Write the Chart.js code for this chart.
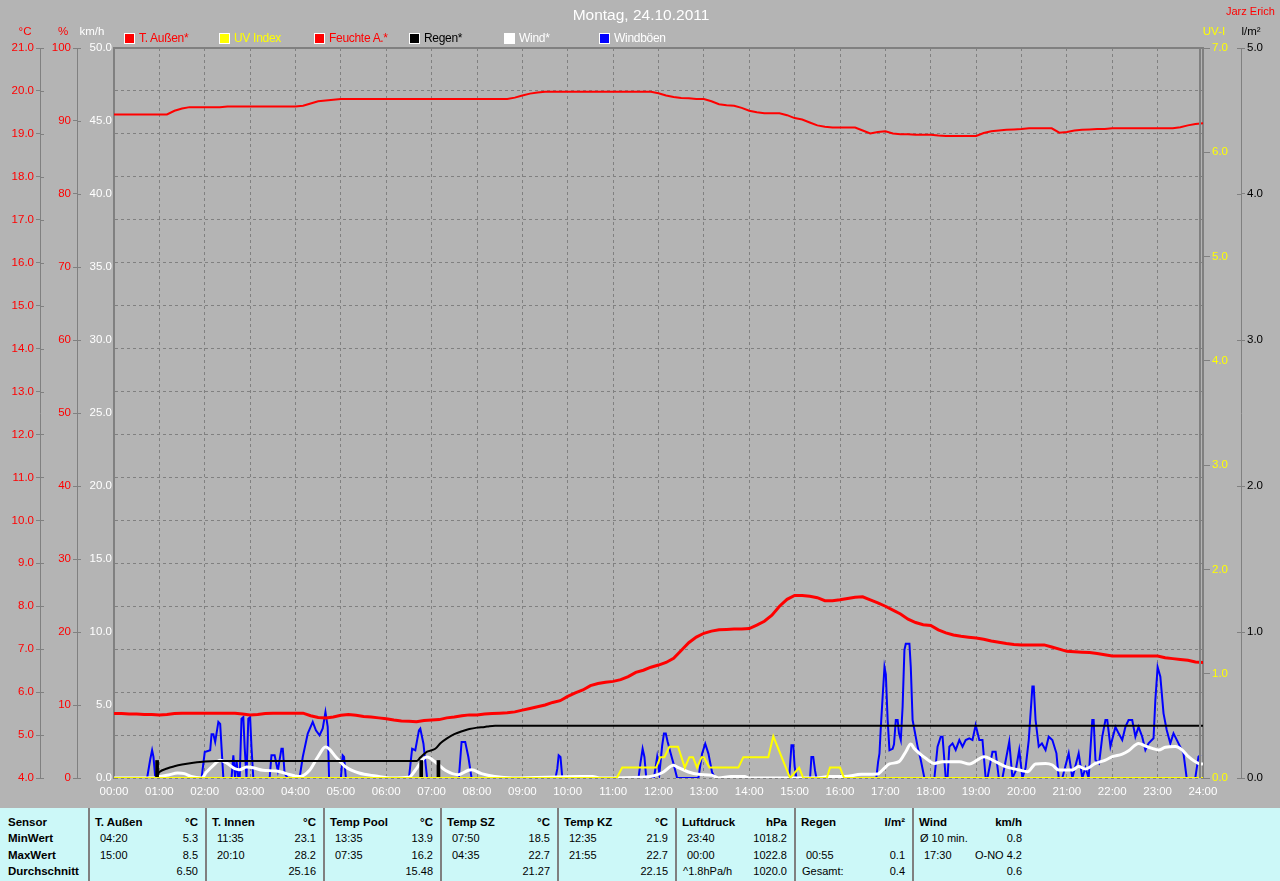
<!DOCTYPE html>
<html><head><meta charset="utf-8">
<script src="https://cdn.jsdelivr.net/npm/chart.js@4.4.0/dist/chart.umd.min.js"></script>
<style>
html,body{margin:0;padding:0;}
body{width:1280px;height:881px;background:#b4b4b4;position:relative;overflow:hidden;font-family:"Liberation Sans",Arial,sans-serif;}
#c{position:absolute;left:0;top:0;}
.abs{position:absolute;white-space:nowrap;line-height:1;}
#title{left:0;width:1282px;top:7px;text-align:center;color:#fff;font-size:15.5px;}
#author{left:1226px;top:6px;color:#f00;font-size:11px;}
.lg-box{position:absolute;width:11px;height:11px;box-sizing:border-box;border:1px solid #fff;top:33px;}
.lg-txt{position:absolute;top:32px;font-size:12px;letter-spacing:-0.3px;white-space:nowrap;line-height:12px;}
#stats{position:absolute;left:0;top:808px;width:1280px;height:73px;background:#ccf8f8;}
.st{position:absolute;font-size:11px;line-height:12px;white-space:nowrap;color:#000;}
.stb{font-weight:bold;font-size:11.5px;}
.sep{position:absolute;top:0;width:2px;height:73px;background:#808080;}
</style></head><body>
<canvas id="c" width="1280" height="807"></canvas>
<div id="title" class="abs">Montag, 24.10.2011</div>
<div id="author" class="abs">Jarz Erich</div>
<div id="legend"></div>
<div id="stats"></div>
<script>
// ---------- DATA ----------
// Temperature outside (°C), 10-minute samples from 00:00 to 24:00
const tempOut = [5.50,5.50,5.49,5.49,5.48,5.48,5.47,5.48,5.50,
 5.51,5.51,5.51,5.51,5.51,5.51,5.51,5.51,
 5.49,5.47,5.48,5.50,
 5.51,5.51,5.51,5.51,5.51,
 5.45,5.41,5.40,5.42,5.46,5.48,5.46,5.43,5.42,5.40,5.38,5.35,5.33,5.32,5.31,5.34,5.35,5.36,5.40,5.42,5.45,5.47,5.47,5.49,5.50,5.51,5.52,5.54,
 5.58,5.62,5.66,5.70,5.76,5.80,5.90,5.98,6.05,6.15,6.20,6.23,6.25,6.29,6.36,6.46,6.51,6.58,6.63,6.69,6.79,6.97,7.15,7.28,7.37,7.42,7.45,7.46,7.47,7.47,7.48,7.56,7.65,7.79,8.00,8.16,8.25,8.25,8.23,8.20,8.13,8.13,8.15,8.18,8.21,8.22,8.15,8.08,8.00,7.91,7.82,7.70,7.62,7.57,7.55,7.45,7.38,7.33,7.30,7.28,7.26,7.23,7.19,7.16,7.13,7.11,7.10,
 7.10,7.10,7.10,7.05,7.00,6.95,6.94,6.93,6.92,6.90,6.87,6.84,
 6.84,6.84,6.84,6.84,6.84,6.84,6.80,6.78,6.76,6.74,6.70,6.69];
// Humidity outside (%), 10-minute samples
const humidity = [90.9,90.9,90.9,90.9,90.9,90.9,90.9,90.9,
 91.4,91.7,91.9,91.9,91.9,91.9,91.9,
 92.0,92.0,92.0,92.0,92.0,92.0,92.0,92.0,92.0,92.0,
 92.1,92.4,92.7,92.8,92.9,
 93.0,93.0,93.0,93.0,93.0,93.0,93.0,93.0,93.0,93.0,93.0,93.0,93.0,93.0,93.0,93.0,93.0,93.0,93.0,93.0,93.0,93.0,93.0,
 93.2,93.5,93.75,93.9,
 94.0,94.0,94.0,94.0,94.0,94.0,94.0,94.0,94.0,94.0,94.0,94.0,94.0,94.0,94.0,
 93.8,93.5,93.3,93.15,93.1,93.0,93.0,92.7,92.3,92.17,92.1,91.8,91.4,91.2,91.07,91.07,91.07,90.8,90.4,90.2,89.8,89.4,89.2,89.1,89.1,89.1,89.1,
 88.7,88.3,88.5,88.6,88.3,88.2,88.2,88.1,88.1,88.1,88.0,
 87.95,87.95,87.95,87.95,87.95,
 88.35,88.6,88.7,88.8,88.85,88.9,
 89.0,89.0,89.0,89.0,
 88.4,88.5,88.7,88.8,88.85,88.9,88.9,
 89.0,89.0,89.0,89.0,89.0,89.0,89.0,89.0,89.0,
 89.15,89.4,89.6,89.7];
// UV index (breakpoints: hour, value)
const uvTimes  = [0,11.08,11.2,11.95,12.04,12.13,12.24,12.43,12.58,12.68,12.76,12.85,12.95,13.0,13.12,13.76,13.87,14.42,14.53,14.9,15.1,15.19,15.71,15.78,16.0,16.09,24];
const uvValues = [0,0,0.1,0.1,0.2,0.2,0.3,0.3,0.1,0.2,0.2,0.1,0.2,0.2,0.1,0.1,0.2,0.2,0.4,0,0.1,0,0,0.1,0.1,0,0];
// Rain cumulative (l/m²)
const rainTimes  = [0.92,1.0,1.17,1.33,1.5,1.75,2.0,2.25,6.67,6.75,6.9,7.08,7.2,7.33,7.5,7.67,7.83,8.0,8.17,8.27,8.4,24];
const rainValues = [0,0.04,0.065,0.08,0.092,0.104,0.113,0.116,0.116,0.14,0.18,0.2,0.24,0.27,0.30,0.32,0.335,0.345,0.35,0.355,0.358,0.358];
// Rain events (l/m²)
const rainBarTimes  = [0.95,6.77,7.15];
const rainBarValues = [0.12,0.12,0.12];
// Wind average (km/h)
const windTimes  = [0,0.88,1.0,1.2,1.4,1.55,1.7,1.93,2.04,2.19,2.34,2.48,2.66,2.77,2.92,3.07,3.28,3.58,3.8,4.09,4.31,4.49,4.66,4.74,4.89,5.11,5.4,5.77,6.13,6.5,6.64,6.82,6.9,7.08,7.3,7.59,7.81,7.88,8.1,8.39,8.78,10.3,10.55,10.7,11.64,11.93,12.11,12.33,12.44,12.66,12.88,13.18,13.32,13.6,13.9,14.0,15.5,15.75,16.1,16.47,16.83,16.94,17.09,17.3,17.45,17.56,17.64,17.75,17.89,18.08,18.26,18.63,18.85,19.18,19.36,19.65,19.95,20.13,20.31,20.53,20.68,20.82,21.12,21.26,21.41,21.63,21.85,22.0,22.22,22.36,22.58,22.73,22.88,23.02,23.17,23.39,23.54,23.68,23.9,24.0];
const windValues = [0,0,0.1,0.2,0.34,0.3,0.1,0,0.41,0.87,1.21,1.03,0.64,0.57,0.75,0.7,0.53,0.48,0.3,0.1,0.53,1.44,2.12,2.0,1.44,0.75,0.34,0.14,0,0.05,0.53,1.32,1.44,1.1,0.53,0.23,0.53,0.57,0.3,0.1,0,0.1,0.1,0,0.05,0.18,0.41,0.87,0.71,0.41,0.25,0.18,0,0.1,0.1,0,0,0.1,0.1,0.25,0.27,0.55,0.96,1.12,1.8,2.33,2.0,1.69,1.35,1.0,1.12,1.12,0.96,1.46,1.23,0.78,0.55,0.43,0.96,1.0,0.89,0.55,0.55,0.78,0.62,1.0,1.23,1.46,1.64,1.87,2.37,2.19,2.03,1.92,2.1,2.15,1.92,1.46,1.0,0.95];
// Wind gusts (km/h)
const gustTimes  = [0,0.73,0.80,0.84,0.87,0.91,1.93,2.00,2.12,2.15,2.19,2.23,2.30,2.34,2.37,2.41,2.59,2.63,2.67,2.70,2.74,2.77,2.81,2.85,2.88,2.92,2.96,3.00,3.03,3.07,3.43,3.47,3.54,3.61,3.69,3.72,3.76,3.83,4.09,4.16,4.27,4.38,4.45,4.53,4.60,4.66,4.71,4.74,5.00,5.04,5.07,5.11,6.50,6.57,6.64,6.72,6.75,6.82,6.90,7.60,7.66,7.74,7.81,7.88,9.73,9.77,9.80,9.84,9.88,11.56,11.60,11.65,11.69,11.73,11.90,11.97,12.02,12.08,12.12,12.16,12.20,12.26,12.33,12.41,12.88,12.96,13.03,13.10,13.18,13.25,14.88,14.93,14.97,15.00,15.04,15.34,15.37,15.41,15.45,15.48,16.80,16.84,16.87,16.90,16.94,16.98,17.01,17.05,17.09,17.16,17.19,17.23,17.27,17.30,17.34,17.38,17.42,17.45,17.53,17.56,17.60,17.71,17.78,17.86,18.08,18.15,18.22,18.26,18.33,18.37,18.41,18.48,18.55,18.63,18.70,18.77,18.85,18.92,18.99,19.07,19.14,19.21,19.25,19.36,19.43,19.50,19.58,19.73,19.80,19.87,19.95,20.02,20.09,20.16,20.24,20.27,20.31,20.38,20.45,20.53,20.60,20.68,20.77,20.82,20.90,21.04,21.12,21.26,21.34,21.41,21.48,21.56,21.59,21.63,21.71,21.78,21.85,21.89,21.96,22.07,22.14,22.22,22.29,22.36,22.44,22.51,22.58,22.66,22.73,22.80,22.91,22.95,23.00,23.06,23.13,23.20,23.28,23.35,23.46,23.57,23.64,23.83,23.90,23.95];
const gustValues = [0,0,1.3,1.9,1.45,0,0,1.78,1.9,3.0,3.0,2.47,3.84,3.7,2.1,0,0,1.55,0,1.2,0,0,4.06,4.17,2.1,0,4.06,4.17,2.1,0,0,1.55,1.55,0.5,2.0,2.0,0.3,0,0,1.44,3.04,3.84,3.27,2.92,3.4,4.52,3.5,0,0,1.55,1.44,0,0,2.0,1.9,3.26,3.38,2.35,0,0,2.47,2.47,1.44,0,0,0.64,1.55,1.44,0,0,0.98,2.0,1.44,0,0,1.44,0.3,2.2,3.04,3.04,2.5,1.78,1.0,0,0,1.67,2.35,1.67,0.4,0,0,2.24,2.24,0.8,0,0,1.44,1.44,0.5,0,0,1.1,1.69,3.5,5.57,7.6,7.1,3.97,1.9,2.0,2.3,3.97,3.97,3.06,2.6,4.9,8.77,9.2,9.2,7.6,3.97,2.15,1.23,0,0,2.15,2.83,2.83,0,0,2.15,2.37,1.92,2.6,2.15,2.6,2.72,2.6,3.63,2.6,2.6,0,0,1.8,1.8,0,0,2.49,0,0.46,1.92,0,0.7,2.6,6.26,6.26,3.97,2.15,2.37,1.92,2.83,2.6,1.69,0,0,1.69,0,1.69,0,0.7,0,3.97,3.97,1.23,1.0,2.83,3.97,3.97,2.15,3.5,3.06,2.6,3.5,3.97,3.97,2.83,3.5,2.83,1.92,2.37,2.72,5.34,7.6,6.94,4.43,3.29,2.37,3.06,2.37,1.69,0,0,1.46,1.6];

// Legend
const legendLabels = ['T. Außen*','UV Index','Feuchte A.*','Regen*','Wind*','Windböen'];
const legendBoxColors = ['#ff0000','#ffff00','#ff0000','#000000','#ffffff','#0000ff'];
const legendTextColors = ['#ff0000','#ffff00','#ff0000','#000000','#ffffff','#ffffff'];

// Stats table
const statRowNames = ['Sensor','MinWert','MaxWert','Durchschnitt'];
const statSensors = ['T. Außen','T. Innen','Temp Pool','Temp SZ','Temp KZ','Luftdruck','Regen','Wind'];
const statUnits = ['°C','°C','°C','°C','°C','hPa','l/m²','km/h'];
const statLabels = [['04:20','15:00',''],['11:35','20:10',''],['13:35','07:35',''],['07:50','04:35',''],['12:35','21:55',''],['23:40','00:00','^1.8hPa/h'],['','00:55','Gesamt:'],['Ø 10 min.','17:30','']];
const statValues = [['5.3','8.5','6.50'],['23.1','28.2','25.16'],['13.9','16.2','15.48'],['18.5','22.7','21.27'],['21.9','22.7','22.15'],['1018.2','1022.8','1020.0'],['','0.1','0.4'],['0.8','O-NO 4.2','0.6']];

// ---------- BUILD HTML PARTS ----------
const lg = document.getElementById('legend');
legendLabels.forEach((t, i) => {
  const x = 124 + i * 95;
  const b = document.createElement('div'); b.className = 'lg-box';
  b.style.left = x + 'px'; b.style.background = legendBoxColors[i]; lg.appendChild(b);
  const s = document.createElement('div'); s.className = 'lg-txt';
  s.style.left = (x + 15) + 'px'; s.style.color = legendTextColors[i]; s.textContent = t; lg.appendChild(s);
});

const st = document.getElementById('stats');
const rowTop = [8, 24, 41, 57];
function addText(txt, x, y, cls, right) {
  const d = document.createElement('div'); d.className = 'st' + (cls ? ' ' + cls : '');
  d.textContent = txt; d.style.top = y + 'px';
  if (right) { d.style.right = (1280 - x) + 'px'; } else { d.style.left = x + 'px'; }
  st.appendChild(d);
}
statRowNames.forEach((n, r) => addText(n, 8, rowTop[r], 'stb'));
const seps = [88, 205, 323, 440, 557, 675, 794, 912];
seps.forEach((sx, c) => {
  const sp = document.createElement('div'); sp.className = 'sep'; sp.style.left = sx + 'px'; st.appendChild(sp);
  const right = c < seps.length - 1 ? seps[c + 1] - 7 : sx + 110;
  addText(statSensors[c], sx + 7, rowTop[0], 'stb');
  addText(statUnits[c], right, rowTop[0], 'stb', true);
  for (let r = 0; r < 3; r++) {
    const lab = statLabels[c][r];
    if (lab) addText(lab, sx + (/^\d\d:\d\d$/.test(lab) ? 12 : 8), rowTop[r + 1]);
    if (statValues[c][r]) addText(statValues[c][r], right, rowTop[r + 1], '', true);
  }
});

// ---------- CHART ----------
const FONT = {family: '"Liberation Sans", Arial, sans-serif', size: 11.5};
Chart.defaults.font.family = FONT.family;
Chart.defaults.font.size = FONT.size;
const xy = (xs, ys) => ys.map((y, i) => ({x: xs[i], y}));
const tenMin = arr => arr.map((y, i) => ({x: i / 6, y}));
const GRID = '#808080';

const axisTitles = [
  {axis: 'yT', text: '°C', color: '#ff0000', dx: -15},
  {axis: 'yH', text: '%', color: '#ff0000', dx: -14},
  {axis: 'yW', text: 'km/h', color: '#ffffff', dx: -22},
  {axis: 'yU', text: 'UV-I', color: '#ffff00', dx: 11},
  {axis: 'yL', text: 'l/m²', color: '#000000', dx: 10}
];

const framePlugin = {
  id: 'frame',
  afterDraw(chart) {
    const {ctx, chartArea: a, scales} = chart;
    ctx.save();
    ctx.strokeStyle = GRID;
    ctx.lineWidth = 2;
    ctx.beginPath(); ctx.moveTo(a.left - 1, a.top); ctx.lineTo(a.right + 1, a.top); ctx.stroke();
    ctx.beginPath(); ctx.moveTo(a.right - 3, a.top); ctx.lineTo(a.right - 3, a.bottom); ctx.stroke();
    ctx.lineWidth = 1;
    [['yT', 1], ['yH', 1], ['yL', -1]].forEach(([id, dir]) => {
      const s = scales[id];
      const bx = dir > 0 ? s.right : s.left;
      s.ticks.forEach(t => {
        const y = Math.round(s.getPixelForValue(t.value)) + 0.5;
        ctx.beginPath(); ctx.moveTo(bx, y); ctx.lineTo(bx + dir * 4, y); ctx.stroke();
      });
    });
    ctx.font = '11.5px ' + FONT.family;
    ctx.textAlign = 'center'; ctx.textBaseline = 'middle';
    axisTitles.forEach(t => {
      const s = scales[t.axis];
      const bx = s.position === 'left' ? s.right : s.left;
      ctx.fillStyle = t.color;
      ctx.fillText(t.text, bx + t.dx, 32);
    });
    ctx.restore();
  }
};

function yAxis(pos, min, max, step, color, width, weight, decimals, extra) {
  return Object.assign({
    type: 'linear', position: pos, min, max, weight,
    ticks: {stepSize: step, color, padding: 2, callback: v => Number(v).toFixed(decimals), autoSkip: false, font: FONT},
    grid: {drawOnChartArea: false, drawTicks: true, tickLength: 4, tickColor: GRID, tickBorderDash: [], color: GRID},
    border: {display: true, color: GRID, width: 1},
    afterFit: s => { s.width = width; }
  }, extra || {});
}

new Chart(document.getElementById('c'), {
  type: 'line',
  data: {
    datasets: [
      {label: 'UV Index', data: xy(uvTimes, uvValues), yAxisID: 'yU', borderColor: '#ffff00', borderWidth: 2, pointRadius: 0, tension: 0, order: 0},
      {label: 'Regen*', data: xy(rainTimes, rainValues), yAxisID: 'yL', borderColor: '#000000', borderWidth: 2, pointRadius: 0, cubicInterpolationMode: 'monotone', order: 1},
      {type: 'bar', label: 'Regen', data: xy(rainBarTimes, rainBarValues), yAxisID: 'yL', backgroundColor: '#000000', barThickness: 3, order: 1},
      {label: 'T. Außen*', data: tenMin(tempOut), yAxisID: 'yT', borderColor: '#ff0000', borderWidth: 3, pointRadius: 0, tension: 0, order: 2},
      {label: 'Feuchte A.*', data: tenMin(humidity), yAxisID: 'yH', borderColor: '#ff0000', borderWidth: 2, pointRadius: 0, tension: 0, order: 3},
      {label: 'Wind*', data: xy(windTimes, windValues), yAxisID: 'yW', borderColor: '#ffffff', borderWidth: 3, pointRadius: 0, cubicInterpolationMode: 'monotone', order: 4},
      {label: 'Windböen', data: xy(gustTimes, gustValues), yAxisID: 'yW', borderColor: '#0000ff', borderWidth: 2, pointRadius: 0, tension: 0, order: 5}
    ]
  },
  options: {
    responsive: false, animation: false, devicePixelRatio: 1, events: [],
    layout: {padding: {top: 48, left: 0, right: 0, bottom: 0}},
    plugins: {legend: {display: false}, title: {display: false}, tooltip: {enabled: false}},
    scales: {
      x: {
        type: 'linear', min: 0, max: 24, offset: false,
        ticks: {stepSize: 1, autoSkip: false, maxRotation: 0, color: '#ffffff', padding: 7, font: FONT,
                callback: v => String(v).padStart(2, '0') + ':00'},
        grid: {color: GRID, drawTicks: false, offset: false},
        border: {display: false, dash: [3, 3]},
        afterFit: s => { s.height = 29; }
      },
      yT: yAxis('left', 4, 21, 1, '#ff0000', 40, 3, 1, {
        grid: {drawOnChartArea: true, drawTicks: true, tickLength: 4, tickColor: GRID, tickBorderDash: [], color: GRID},
        border: {display: true, color: GRID, width: 1, dash: [3, 3]}
      }),
      yH: yAxis('left', 0, 100, 10, '#ff0000', 37, 2, 0),
      yW: yAxis('left', 0, 50, 5, '#ffffff', 37, 1, 1, {
        grid: {drawOnChartArea: false, drawTicks: false, color: GRID},
        border: {display: true, color: GRID, width: 2}
      }),
      yU: yAxis('right', 0, 7, 1, '#ffff00', 38, 1, 1, {
        grid: {drawOnChartArea: false, drawTicks: true, tickLength: 7, tickColor: GRID, tickBorderDash: [], color: GRID},
        border: {display: true, color: GRID, width: 2}
      }),
      yL: yAxis('right', 0, 5, 1, '#000000', 39, 2, 1)
    }
  },
  plugins: [framePlugin]
});
</script></body></html>
